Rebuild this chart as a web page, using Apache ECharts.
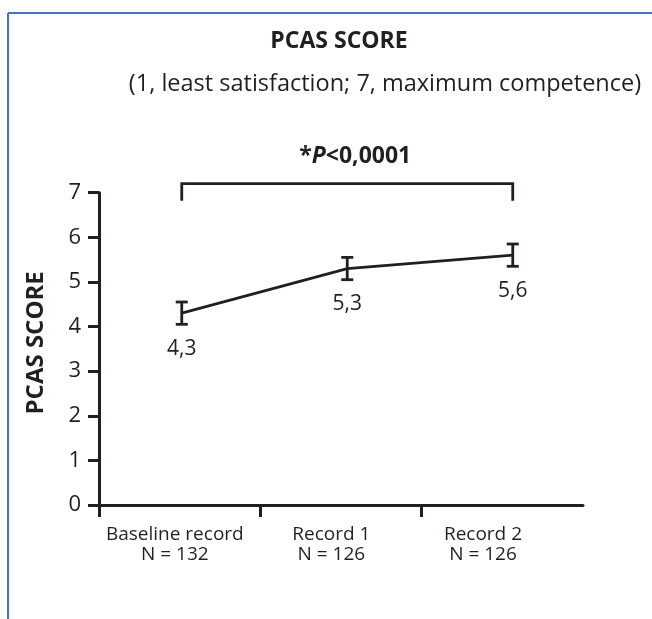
<!DOCTYPE html>
<html>
<head>
<meta charset="utf-8">
<script src="https://cdn.jsdelivr.net/npm/echarts@6.0.0/dist/echarts.min.js"></script>
<style>
    html, body { margin: 0; padding: 0; background: #fff; }
    #pcasChart { width: 652px; height: 619px; }
</style>
</head>
<body>
<div id="pcasChart"></div>
<script>
    // data
    var categories = ['Baseline record', 'Record 1', 'Record 2'];
    var sampleSizes = ['N = 132', 'N = 126', 'N = 126'];
    var means = [4.3, 5.3, 5.6];
    var errors = [0.25, 0.25, 0.25];
    var yTicks = [0, 1, 2, 3, 4, 5, 6, 7];
    var pValueText = '<0,0001';

    var ink = '#231f20';
    var fontFam = '"Open Sans", "Noto Sans", sans-serif';

    function fmt(v) {
        return String(v).replace('.', ',');
    }

    var myChart = echarts.init(document.getElementById('pcasChart'));

    var option = {
        backgroundColor: '#fff',
        animation: false,
        title: [{
            text: 'PCAS SCORE',
            left: 334,
            top: 25,
            textAlign: 'center',
            textStyle: {fontFamily: fontFam, fontSize: 23, fontWeight: 'bold', color: ink}
        }, {
            text: '(1, least satisfaction; 7, maximum competence)',
            left: 380,
            top: 67,
            textAlign: 'center',
            textStyle: {fontFamily: fontFam, fontSize: 23.5, fontWeight: 'normal', color: ink}
        }],
        // blue frame on the top and left edge
        graphic: [
            {type: 'line', shape: {x1: 8, y1: 13, x2: 652, y2: 13}, style: {stroke: '#4175c6', lineWidth: 2}},
            {type: 'line', shape: {x1: 8, y1: 13, x2: 8, y2: 619}, style: {stroke: '#4175c6', lineWidth: 2}}
        ],
        grid: [
            {left: 99, right: 56.5, top: 192.7, bottom: 114},
            {left: 99, right: 69, top: 192.7, bottom: 114}
        ],
        xAxis: [{
            type: 'category',
            gridIndex: 0,
            data: categories,
            boundaryGap: true,
            axisLine: {show: false},
            axisTick: {show: false},
            axisLabel: {show: false}
        }, {
            type: 'value',
            gridIndex: 1,
            min: 0,
            max: 3,
            interval: 1,
            splitLine: {show: false},
            axisLine: {show: true, lineStyle: {color: ink, width: 3}},
            axisTick: {
                show: true,
                customValues: [0, 1, 2],
                length: 12,
                lineStyle: {color: ink, width: 3}
            },
            axisLabel: {
                customValues: [0.47, 1.44, 2.38],
                margin: 20,
                fontFamily: fontFam,
                fontSize: 19,
                lineHeight: 20,
                color: ink,
                formatter: function (value) {
                    var i = Math.floor(value);
                    return categories[i] + '\n' + sampleSizes[i];
                }
            }
        }],
        yAxis: [{
            type: 'value',
            gridIndex: 0,
            min: yTicks[0],
            max: yTicks[yTicks.length - 1],
            interval: 1,
            name: 'PCAS SCORE',
            nameLocation: 'middle',
            nameGap: 51,
            nameTextStyle: {
                fontFamily: fontFam,
                fontSize: 24,
                fontWeight: 'bold',
                color: ink,
                padding: [0, 0, 0, 12]
            },
            splitLine: {show: false},
            axisLine: {show: true, lineStyle: {color: ink, width: 3}},
            axisTick: {show: true, length: 11, lineStyle: {color: ink, width: 3}},
            axisLabel: {margin: 18, fontFamily: fontFam, fontSize: 22, color: ink}
        }, {
            type: 'value',
            gridIndex: 1,
            min: 0,
            max: 7,
            show: false
        }],
        series: [{
            name: 'PCAS',
            type: 'line',
            xAxisIndex: 0,
            yAxisIndex: 0,
            data: means,
            symbol: 'none',
            lineStyle: {color: ink, width: 2.8},
            z: 2
        }, {
            // error bars with value labels
            type: 'custom',
            xAxisIndex: 0,
            yAxisIndex: 0,
            data: means.map(function (m, i) {
                return [i, m - errors[i], m + errors[i], m];
            }),
            renderItem: function (params, api) {
                var lo = api.coord([api.value(0), api.value(1)]);
                var hi = api.coord([api.value(0), api.value(2)]);
                var cap = 6;
                var st = {stroke: ink, lineWidth: 2.8};
                return {
                    type: 'group',
                    children: [
                        {type: 'line', shape: {x1: lo[0], y1: lo[1], x2: hi[0], y2: hi[1]}, style: st},
                        {type: 'line', shape: {x1: lo[0] - cap, y1: lo[1], x2: lo[0] + cap, y2: lo[1]}, style: st},
                        {type: 'line', shape: {x1: hi[0] - cap, y1: hi[1], x2: hi[0] + cap, y2: hi[1]}, style: st},
                        {
                            type: 'text',
                            style: {
                                text: fmt(api.value(3)),
                                x: lo[0],
                                y: lo[1] + 14,
                                align: 'center',
                                verticalAlign: 'top',
                                font: '21px ' + fontFam,
                                fill: ink
                            }
                        }
                    ]
                };
            },
            z: 3
        }, {
            // significance bracket from first to last record
            type: 'custom',
            xAxisIndex: 0,
            yAxisIndex: 0,
            data: [[0, categories.length - 1]],
            renderItem: function (params, api) {
                var a = api.coord([api.value(0), 7]);
                var b = api.coord([api.value(1), 7]);
                var y = params.coordSys.y - 9;
                var st = {stroke: ink, lineWidth: 2.8, fill: null};
                return {
                    type: 'group',
                    children: [
                        {
                            type: 'polyline',
                            shape: {points: [[a[0], y + 17], [a[0], y], [b[0], y], [b[0], y + 17]]},
                            style: st
                        },
                        {
                            type: 'text',
                            style: {
                                text: '{a|*}{b|P}{a|' + pValueText + '}',
                                x: (a[0] + b[0]) / 2 + 8,
                                y: y - 27,
                                align: 'center',
                                verticalAlign: 'middle',
                                rich: {
                                    a: {font: 'bold 23px ' + fontFam, fill: ink},
                                    b: {font: 'italic bold 23px ' + fontFam, fill: ink}
                                }
                            }
                        }
                    ]
                };
            },
            z: 3
        }]
    };

    myChart.setOption(option);
</script>
</body>
</html>
